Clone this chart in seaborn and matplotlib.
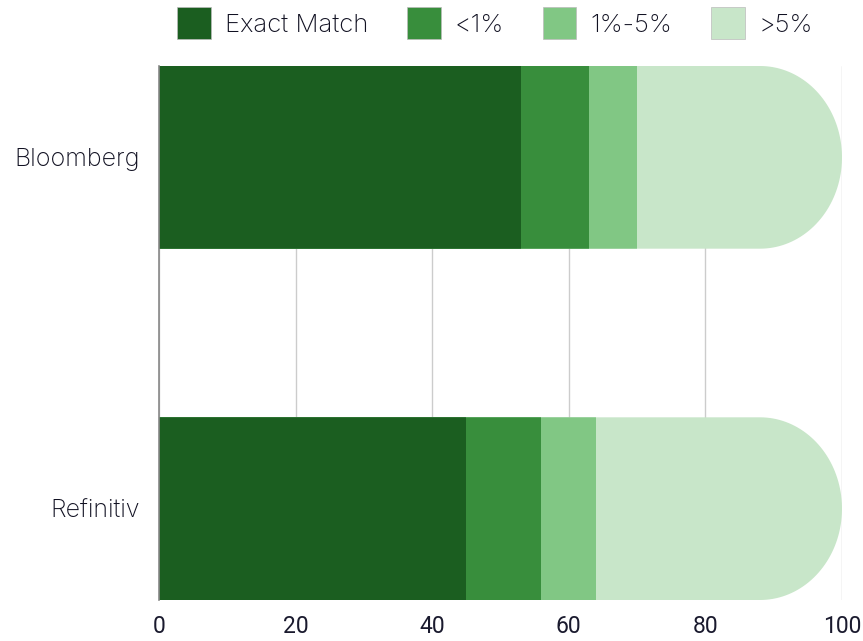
import numpy as np
import pandas as pd
import matplotlib
matplotlib.use("Agg")
import matplotlib.pyplot as plt
import seaborn as sns
from matplotlib.path import Path
from matplotlib.patches import Patch

providers = ["Bloomberg", "Refinitiv"]
series_names = ["Exact Match", "<1%", "1%-5%", ">5%"]
exact_match = [53, 45]
lt_1 = [10, 11]
pct_1_5 = [7, 8]
gt_5 = [30, 36]
colors = ["#1b5e20", "#388e3c", "#81c784", "#c8e6c9"]
x_ticks = [0, 20, 40, 60, 80, 100]

sns.set_theme(style="white")
plt.rcParams["font.family"] = ["Inter", "DejaVu Sans"]

values = np.array([exact_match, lt_1, pct_1_5, gt_5], dtype=float)
cum = np.cumsum(values, axis=0)

fig = plt.figure(figsize=(8.63, 6.41), dpi=100)
ax = fig.add_axes([159/863, 1-600/641, (842-159)/863, (600-66)/641])

bar_h = 0.52
for i in range(len(series_names) - 1, -1, -1):
    df = pd.DataFrame({"provider": providers, "value": cum[i]})
    sns.barplot(data=df, y="provider", x="value", orient="h", color=colors[i],
                width=bar_h, saturation=1, ax=ax, zorder=2, linewidth=0)

ax.set_xlim(0, 100)
ax.set_ylim(1 + bar_h/2, -bar_h/2)

# rounded right end clip
rx = 12.0
ry = bar_h / 2
clip_paths = {}
for j in range(len(providers)):
    yc = j
    xc = 100 - rx
    t = np.linspace(-np.pi/2, np.pi/2, 80)
    arc = np.column_stack([xc + rx*np.cos(t), yc + ry*np.sin(t)])
    verts = np.vstack([[[-5, yc - ry]], [[xc, yc - ry]], arc, [[xc, yc + ry]], [[-5, yc + ry]], [[-5, yc - ry]]])
    codes = [Path.MOVETO] + [Path.LINETO]*(len(verts)-2) + [Path.CLOSEPOLY]
    clip_paths[j] = Path(verts, codes)

for p in ax.patches:
    yc = p.get_y() + p.get_height()/2
    j = int(round(yc))
    p.set_clip_path(clip_paths[j], ax.transData)

ax.set_xticks(x_ticks)
ax.set_xticklabels([str(v) for v in x_ticks], fontsize=16.5,
                   family=["Roboto", "DejaVu Sans"], color="#1a1a2e")
for lbl in ax.get_yticklabels():
    lbl.set_fontweight("light")
ax.tick_params(axis="y", labelsize=18, labelcolor="#111122", pad=14, length=0)
ax.tick_params(axis="x", pad=11, length=0)
ax.set_xlabel("")
ax.set_ylabel("")
ax.grid(axis="x", color="#cccccc", linewidth=1, zorder=0)
ax.set_axisbelow(True)
for s in ["top", "right", "bottom"]:
    ax.spines[s].set_visible(False)
ax.spines["left"].set_color("#888888")
ax.spines["left"].set_linewidth(1.2)

handles = [Patch(facecolor=c, edgecolor="#bbbbbb", linewidth=0.5) for c in colors]
leg = fig.legend(handles, series_names, loc="upper center", bbox_to_anchor=(495/863, 1 - 2/641),
                 ncol=4, frameon=False, fontsize=18.5, handlelength=1.32, handleheight=1.55,
                 handletextpad=0.54, columnspacing=1.5, labelcolor="#111122",
                 borderaxespad=0.0, borderpad=0.2)
for t in leg.get_texts():
    t.set_fontweight("light")

fig.savefig("out.png", dpi=100)
